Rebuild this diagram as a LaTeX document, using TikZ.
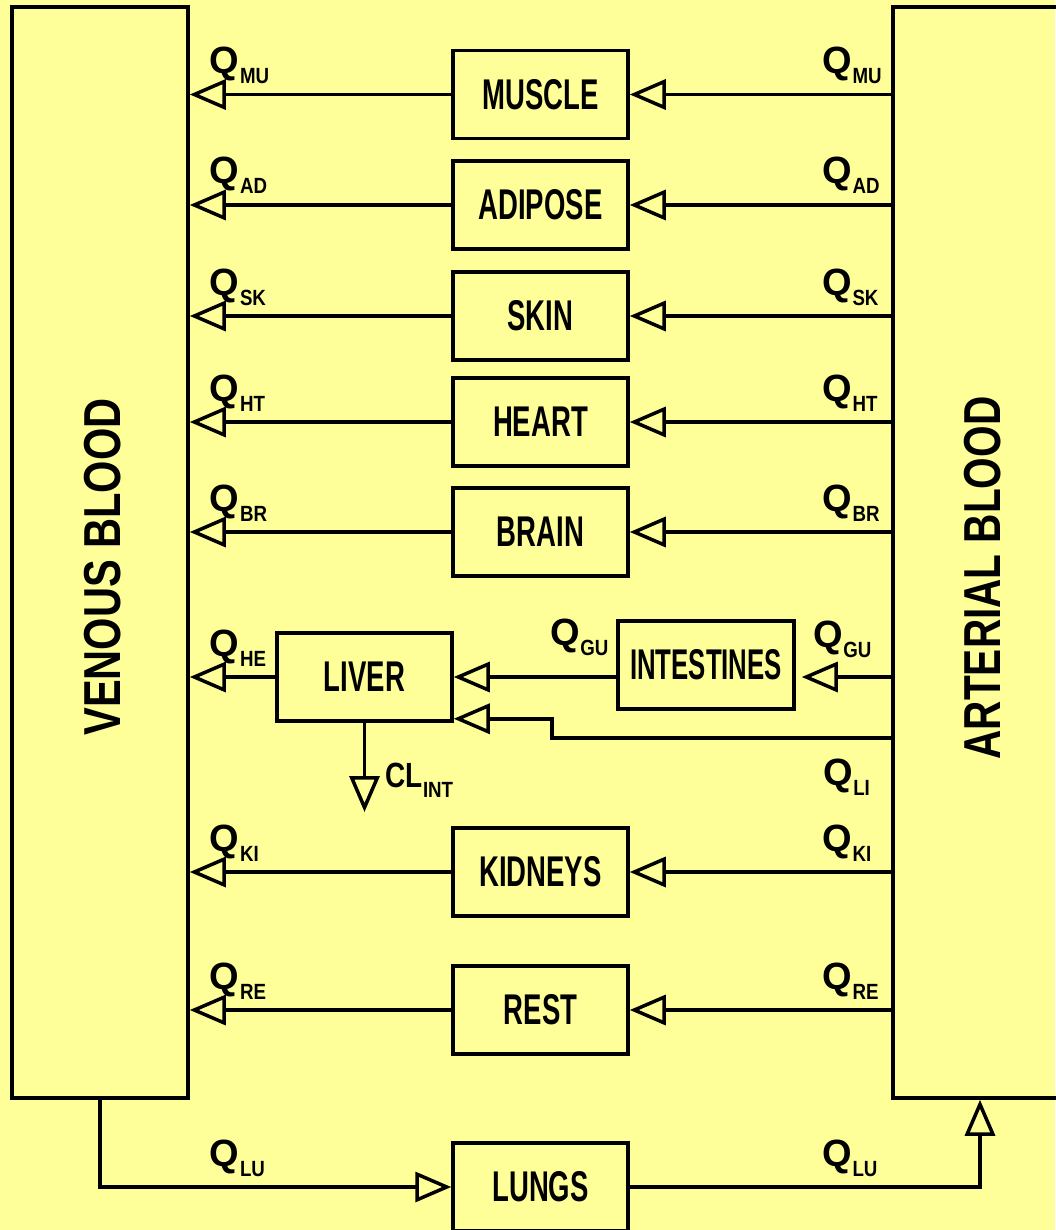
\documentclass[tikz,border=0pt]{standalone}
\usepackage{fontspec}
\setmainfont{Liberation Sans}
\usetikzlibrary{arrows.meta}
\definecolor{bgyellow}{RGB}{255,255,153}
\newcommand{\qsub}[2]{#1\kern0.5pt\raisebox{-10pt}{\fontsize{22}{22}\selectfont\scalebox{0.85}[1]{#2}}}
\newcommand{\orgtext}[2][0.64]{\scalebox{#1}[1]{#2}}

\begin{document}
\begin{tikzpicture}[x=1pt, y=-1pt,
    organ/.style = {draw, line width=3.5pt, minimum width=175pt, minimum height=88pt, inner sep=0pt, font=\fontsize{43}{43}\selectfont\bfseries},
    pool/.style = {draw, line width=3.5pt, minimum width=176pt, minimum height=1091pt, inner sep=0pt},
    pooltext/.style = {rotate=90, inner sep=0pt, font=\fontsize{52}{52}\selectfont\bfseries},
    flow/.style = {draw, line width=3.5pt, -{Triangle[open, length=36pt, width=30pt]}},
    qtext/.style = {anchor=base west, inner sep=0pt, font=\fontsize{38}{38}\selectfont\bfseries},
    qleft/.style = {qtext, xshift=20pt, yshift=21pt},
    qright/.style = {qtext, xshift=-69pt, yshift=21pt}]
    \fill[bgyellow] (0,0) rectangle (1055,1230);
    \useasboundingbox (0,0) rectangle (1055,1230);

    % blood pools
    \node[pool] (venous) at (100,552.5) {};
    \node[pool, minimum width=174pt] (arterial) at (980,552.5) {};
    \node[pooltext] (venoustext) at (103,567) {\scalebox{0.8}[1]{VENOUS BLOOD}};
    \node[pooltext] (arterialtext) at (983,578) {\scalebox{0.78}[1]{ARTERIAL BLOOD}};

    % tissues in parallel
    \foreach \name/\txt/\y in {muscle/MUSCLE/94.5, adipose/ADIPOSE/205, skin/SKIN/316, heart/HEART/422, brain/BRAIN/532, kidneys/KIDNEYS/872, rest/REST/1010}
        \node[organ] (\name) at (540.5,\y) {\orgtext{\txt}};
    \node[organ] (liver) at (364.5,677) {\orgtext{LIVER}};
    \node[organ, minimum width=176pt] (intestines) at (706,665) {\orgtext[0.6]{INTESTINES}};
    \node[organ] (lungs) at (540.5,1187) {\orgtext{LUNGS}};

    \foreach \name/\sub in {muscle/MU, adipose/AD, skin/SK, heart/HT, brain/BR, kidneys/KI, rest/RE} {
        \draw[flow] (arterial.west |- \name) -- (\name.east);
        \draw[flow] (\name.west) -- (venous.east |- \name);
        \node[qleft] (ql\name) at (venous.east |- \name) {\qsub{Q}{\sub}};
        \node[qright] (qr\name) at (arterial.west |- \name) {\qsub{Q}{\sub}};
    }

    % liver and gut
    \coordinate (hepbend) at (552,738);
    \coordinate (clint) at (364.5,812);
    \draw[flow] (liver.west) -- (venous.east |- liver);
    \draw[flow] (intestines.west |- liver) -- (liver.east);
    \draw[flow, shorten >=6pt] (arterial.west |- liver) -- (intestines.east |- liver);
    \draw[flow] (arterial.west |- hepbend) -- (hepbend) |- ([yshift=4pt]liver.south east);
    \draw[flow] (liver.south) -- (clint);
    \node[qleft] (qlliver) at (venous.east |- liver) {\qsub{Q}{HE}};
    \node[qtext] (qlgut) at (550,645) {\qsub{Q}{GU}};
    \node[qtext] (qrgut) at (813,647) {\qsub{Q}{GU}};
    \node[qtext] (qrhep) at (823,785) {\qsub{Q}{LI}};
    \node[qtext, font=\fontsize{35}{35}\selectfont\bfseries] (cltext) at (385,787) {\qsub{\scalebox{0.8}[1]{CL}}{INT}};

    % lungs
    \draw[flow] (venous.south) |- (lungs.west);
    \draw[flow] (lungs.east) -| (arterial.south);
    \node[qleft] (qllungs) at (venous.east |- lungs) {\qsub{Q}{LU}};
    \node[qright] (qrlungs) at (arterial.west |- lungs) {\qsub{Q}{LU}};
\end{tikzpicture}
\end{document}
